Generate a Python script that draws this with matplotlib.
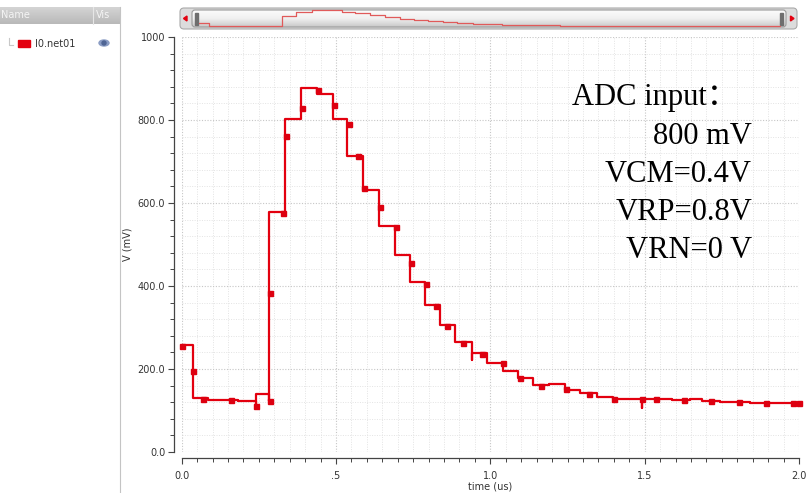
import matplotlib
matplotlib.use("Agg")
import matplotlib.pyplot as plt
from matplotlib.patches import FancyBboxPatch, Rectangle, Ellipse, Polygon
from matplotlib.ticker import MultipleLocator
import numpy as np

# 波形データ（サンプル&ホールド出力, 単位: us / mV）
step_t = [0.000, 0.036, 0.086, 0.183, 0.241, 0.241, 0.284, 0.284, 0.335, 0.388,
          0.437, 0.491, 0.537, 0.586, 0.639, 0.691, 0.740, 0.788, 0.837, 0.887,
          0.940, 0.940, 0.988, 1.040, 1.091, 1.139, 1.190, 1.242, 1.291, 1.345,
          1.398, 1.491, 1.491, 1.588, 1.647, 1.685, 1.744, 1.842, 2.000]
step_v = [257, 129, 125, 124, 112, 139, 124, 578, 802, 878,
          863, 802, 714, 631, 545, 475, 409, 354, 306, 266,
          222, 238, 215, 194, 178, 161, 163, 149, 143, 133,
          127, 105, 128, 126, 127, 124, 121, 119, 119]

# マーカー位置
mark_t = [0.000, 0.038, 0.068, 0.160, 0.241, 0.286, 0.286, 0.329, 0.338, 0.390,
          0.441, 0.492, 0.541, 0.572, 0.591, 0.643, 0.693, 0.742, 0.791, 0.824,
          0.859, 0.912, 0.972, 1.040, 1.096, 1.163, 1.245, 1.321, 1.399, 1.491,
          1.536, 1.629, 1.714, 1.804, 1.893, 1.982, 2.000]
mark_v = [255, 196, 128, 125, 112, 124, 382, 575, 762, 830,
          872, 835, 790, 713, 635, 591, 542, 455, 406, 353,
          304, 263, 236, 214, 178, 160, 153, 140, 127, 127,
          128, 125, 123, 121, 119, 119, 119]

x_ticks = [0.0, 0.5, 1.0, 1.5, 2.0]
x_ticklabels = ["0.0", ".5", "1.0", "1.5", "2.0"]
y_ticks = [0, 200, 400, 600, 800, 1000]
y_ticklabels = ["0.0", "200.0", "400.0", "600.0", "800.0", "1000"]

notes = ["800 mV", "VCM=0.4V", "VRP=0.8V", "VRN=0 V"]

W, H = 807, 493
RED = "#e3000f"


def px_rect(x0, y0, x1, y1):
    return [x0 / W, 1 - y1 / H, (x1 - x0) / W, (y1 - y0) / H]


fig = plt.figure(figsize=(W / 100, H / 100), dpi=100)
fig.patch.set_facecolor("white")

# 背景用（ピクセル座標）
bg = fig.add_axes([0, 0, 1, 1], zorder=0)
bg.set_xlim(0, W)
bg.set_ylim(H, 0)
bg.axis("off")

# 左パネル
grad = np.linspace(0, 1, 32).reshape(-1, 1)
bg.imshow(grad, cmap=matplotlib.colors.LinearSegmentedColormap.from_list("hd", ["#d4d4d4", "#b9b9b9"]),
          extent=(0, 120, 24, 7), aspect="auto", zorder=1)
bg.plot([93, 93], [7, 24], color="#e6e6e6", lw=0.8, zorder=2)
bg.plot([120, 120], [7, H], color="#c4c4c4", lw=0.8, zorder=2)
bg.text(1, 15.5, "Name", fontsize=7, color="#f4f4f4", va="center", ha="left", zorder=3)
bg.text(96, 15.5, "Vis", fontsize=7, color="#f4f4f4", va="center", ha="left", zorder=3)
bg.plot([9, 9, 13], [38, 45, 45], color="#c8c8c8", lw=0.8, zorder=2)
bg.add_patch(Rectangle((18, 40), 12, 7, color=RED, zorder=3))
bg.text(35, 44, "I0.net01", fontsize=7, color="#333333", va="center", ha="left", zorder=3)
bg.add_patch(Ellipse((104, 43), 10, 6, color="#8a9cc4", zorder=3))
bg.add_patch(Ellipse((104, 43), 4, 4, color="#4f6594", zorder=4))

# スクロールバー
bg.add_patch(FancyBboxPatch((180, 8), 617, 21, boxstyle="round,pad=0,rounding_size=4",
                            facecolor="#dcdcdc", edgecolor="#a9a9a9", lw=0.8, zorder=1))
thumb = FancyBboxPatch((192, 10), 594, 17, boxstyle="round,pad=0,rounding_size=3",
                       facecolor="none", edgecolor="#9a9a9a", lw=0.8, zorder=3)
bg.add_patch(thumb)
im = bg.imshow(grad, cmap=matplotlib.colors.LinearSegmentedColormap.from_list("sb", ["#fbfbfb", "#f0f0f0", "#c9c9c9"]),
               extent=(192, 786, 27, 10), aspect="auto", zorder=2)
im.set_clip_path(thumb)
bg.add_patch(Rectangle((195, 12.5), 3, 12, color="#6e6e6e", zorder=4))
bg.add_patch(Rectangle((780, 12.5), 3, 12, color="#6e6e6e", zorder=4))
bg.add_patch(Polygon([[183.5, 18.5], [187, 16], [187, 21]], color=RED, zorder=4))
bg.add_patch(Polygon([[794, 18.5], [790.5, 16], [790.5, 21]], color=RED, zorder=4))

# 全体表示（スクロールバー内）
ov = fig.add_axes(px_rect(199, 7.4, 781, 28.7), zorder=2)
ov.patch.set_alpha(0)
ov.set_xlim(0, 2)
ov.set_ylim(0, 1000)
ov.axis("off")
ov.step(step_t, step_v, where="post", color="#e05a5a", lw=0.9)

# メインの波形
ax = fig.add_axes(px_rect(181.7, 37, 799, 452), zorder=1)
ax.set_facecolor("white")
ax.set_xlim(0, 2)
ax.set_ylim(0, 1000)
ax.set_axisbelow(True)

ax.xaxis.set_minor_locator(MultipleLocator(0.05))
ax.yaxis.set_minor_locator(MultipleLocator(40))
ax.grid(which="minor", color="#e3e3e3", ls=(0, (1, 1.5)), lw=0.7)
ax.grid(which="major", color="#c6c6c6", ls=(0, (1, 1.5)), lw=0.8)

ax.set_xticks(x_ticks)
ax.set_xticklabels(x_ticklabels)
ax.set_yticks(y_ticks)
ax.set_yticklabels(y_ticklabels)

for s in ["top", "right"]:
    ax.spines[s].set_visible(False)
ax.spines["left"].set_position(("outward", 5.8))
ax.spines["bottom"].set_position(("outward", 4.5))
for s in ["left", "bottom"]:
    ax.spines[s].set_color("#444444")
    ax.spines[s].set_linewidth(0.9)

ax.tick_params(which="major", direction="out", length=4, width=0.8, color="#444444",
               labelsize=7, labelcolor="#333333")
ax.tick_params(which="minor", direction="out", length=2.8, width=0.7, color="#444444")
ax.tick_params(axis="x", which="major", pad=5)
ax.tick_params(axis="y", which="major", pad=2)

ax.set_xlabel("time (us)", fontsize=7, color="#333333")
ax.set_ylabel("V (mV)", fontsize=7, color="#333333")
ax.xaxis.set_label_coords(0.4995, -0.072)
ax.yaxis.set_label_coords(-0.079, 0.5)

ax.step(step_t, step_v, where="post", color=RED, lw=1.6, zorder=3)
ax.plot(mark_t, mark_v, "s", color="#dd0010", ms=3.6, zorder=4, clip_on=False)

# 注記
serif = ["Liberation Serif", "Noto Sans CJK SC"]
fig.text(572 / W, 1 - 98 / H, "ADC input：", fontsize=22, family=serif,
         ha="left", va="center", color="black", zorder=5)
for i, s in enumerate(notes):
    y = [137, 175, 213, 251][i]
    fig.text(752 / W, 1 - y / H, s, fontsize=22, family=serif,
             ha="right", va="center", color="black", zorder=5)

fig.savefig("out.png", dpi=100)
